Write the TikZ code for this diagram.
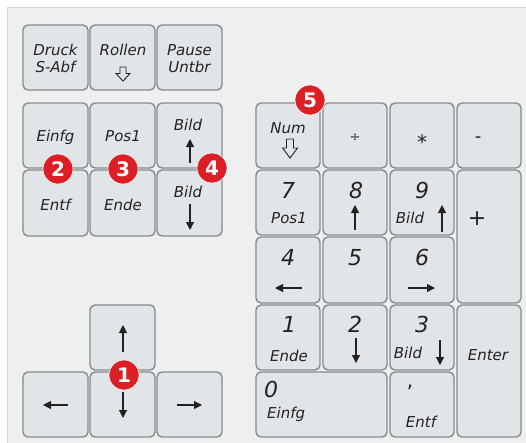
\documentclass[tikz,border=0pt]{standalone}
\usepackage{fontspec}
\setmainfont{DejaVu Sans}
\usetikzlibrary{arrows.meta}
\definecolor{panelfill}{HTML}{EEF0F0}
\definecolor{panelline}{HTML}{D6D8D8}
\definecolor{keyfill}{HTML}{E2E5E8}
\definecolor{keyline}{HTML}{878A8E}
\definecolor{txt}{HTML}{222222}
\definecolor{badgered}{HTML}{DC1E25}
\newcommand\kbkey[5]{\node[keybox, minimum width={#4-#2}, minimum height={#5-#3}] (#1) at ({(#2+#4)/2},{(#3+#5)/2}) {};}
\newcommand\kbhollow[6]{\draw[hollowarrow] (#1-#4,#2) -- (#1+#4,#2) -- (#1+#4,#3) -- (#1+#5,#3) -- (#1,#6) -- (#1-#5,#3) -- (#1-#4,#3) -- cycle;}
\tikzset{
  keybox/.style={draw=keyline, fill=keyfill, line width=1.4pt, rounded corners=5pt, inner sep=0pt, outer sep=0pt},
  keytxt/.style={font=\fontsize{15}{17}\selectfont\itshape, text=txt, inner sep=0pt, anchor=base},
  numtxt/.style={font=\fontsize{22}{24}\selectfont\itshape, text=txt, inner sep=0pt, anchor=base},
  keyarrow/.style={draw=txt, line width=1.1pt, -{Triangle[length=8pt,width=8pt]}},
  hollowarrow/.style={draw=txt, line width=0.9pt, fill=keyfill, line join=miter},
  badge/.style={circle, fill=badgered, draw=white, line width=0.6pt, minimum size=30pt, inner sep=0pt, text=white, font=\fontsize{20}{20}\selectfont\bfseries}
}
\begin{document}
\begin{tikzpicture}[x=1pt,y=-1pt]
\useasboundingbox (0,0) rectangle (526,442);
\fill[white] (0,0) rectangle (526,442);
\fill[panelfill] (7,7) rectangle (530,446);
\draw[panelline, line width=1pt] (7,446) -- (7,7) -- (530,7);
% top block
\kbkey{druck}{23}{25}{88}{90}
\kbkey{rollen}{90}{25}{155}{90}
\kbkey{pause}{157}{25}{222}{90}
\kbkey{einfg}{23}{103}{88}{168}
\kbkey{pos}{90}{103}{155}{168}
\kbkey{bildup}{157}{103}{222}{168}
\kbkey{entf}{23}{170}{88}{236}
\kbkey{ende}{90}{170}{155}{236}
\kbkey{bilddn}{157}{170}{222}{236}
% arrow keys
\kbkey{up}{90}{305}{155}{370}
\kbkey{left}{23}{372}{88}{437}
\kbkey{down}{90}{372}{155}{437}
\kbkey{right}{157}{372}{222}{437}
% numpad
\kbkey{num}{256}{103}{320}{168}
\kbkey{div}{323}{103}{387}{168}
\kbkey{mul}{390}{103}{454}{168}
\kbkey{minus}{457}{103}{521}{168}
\kbkey{n7}{256}{170}{320}{235}
\kbkey{n8}{323}{170}{387}{235}
\kbkey{n9}{390}{170}{454}{235}
\kbkey{plus}{457}{170}{521}{303}
\kbkey{n4}{256}{237}{320}{303}
\kbkey{n5}{323}{237}{387}{303}
\kbkey{n6}{390}{237}{454}{303}
\kbkey{n1}{256}{305}{320}{370}
\kbkey{n2}{323}{305}{387}{370}
\kbkey{n3}{390}{305}{454}{370}
\kbkey{enter}{457}{305}{521}{437}
\kbkey{n0}{256}{372}{387}{437}
\kbkey{comma}{390}{372}{454}{437}
% texts top block
\node[keytxt] (tdruck) at (55.5,55) {Druck};
\node[keytxt] (tsabf) at (55.5,72) {S-Abf};
\node[keytxt] (trollen) at (123,55) {Rollen};
\kbhollow{123}{67}{73.5}{3}{7}{81}
\node[keytxt] (tpause) at (189.5,55) {Pause};
\node[keytxt] (tuntbr) at (189.5,72) {Untbr};
\node[keytxt] (teinfg) at (55.5,141) {Einfg};
\node[keytxt] (tpos) at (123,141) {Pos1};
\node[keytxt] (tbildup) at (188,130) {Bild};
\coordinate (aup1) at (190,163); \coordinate (aup2) at (190,139);
\draw[keyarrow] (aup1) -- (aup2);
\node[keytxt] (tentf) at (55.5,210) {Entf};
\node[keytxt] (tende) at (123,210) {Ende};
\node[keytxt] (tbilddn) at (188,197) {Bild};
\coordinate (adn1) at (190,204); \coordinate (adn2) at (190,230);
\draw[keyarrow] (adn1) -- (adn2);
% arrow keys
\coordinate (u1) at (123,352); \coordinate (u2) at (123,325);
\draw[keyarrow] (u1) -- (u2);
\coordinate (d1) at (123,392); \coordinate (d2) at (123,418);
\draw[keyarrow] (d1) -- (d2);
\coordinate (l1) at (68,405); \coordinate (l2) at (43,405);
\draw[keyarrow] (l1) -- (l2);
\coordinate (r1) at (177,405); \coordinate (r2) at (202,405);
\draw[keyarrow] (r1) -- (r2);
% numpad texts
\node[keytxt] (tnum) at (288,133) {Num};
\kbhollow{290}{139}{148}{3.5}{7.5}{158}
\node[keytxt, font=\fontsize{13}{13}\selectfont] (tdiv) at (355,141) {÷};
\node[keytxt, font=\fontsize{20}{20}\selectfont] (tmul) at (422,149) {*};
\node[keytxt, font=\fontsize{18}{18}\selectfont] (tminus) at (478,142) {-};
\node[numtxt] (t7) at (288,198) {7};
\node[keytxt] (tpos7) at (289,223) {Pos1};
\node[numtxt] (t8) at (356,198) {8};
\coordinate (a8a) at (355,230); \coordinate (a8b) at (355,205);
\draw[keyarrow] (a8a) -- (a8b);
\node[numtxt] (t9) at (422,198) {9};
\node[keytxt] (tbild9) at (410,223) {Bild};
\coordinate (a9a) at (442,232); \coordinate (a9b) at (442,205);
\draw[keyarrow] (a9a) -- (a9b);
\node[numtxt, font=\fontsize{22}{22}\selectfont] (tplus) at (477,225) {+};
\node[numtxt] (t4) at (288,265) {4};
\coordinate (a4a) at (302,288); \coordinate (a4b) at (275,288);
\draw[keyarrow] (a4a) -- (a4b);
\node[numtxt] (t5) at (355,265) {5};
\node[numtxt] (t6) at (422,265) {6};
\coordinate (a6a) at (408,288); \coordinate (a6b) at (435,288);
\draw[keyarrow] (a6a) -- (a6b);
\node[numtxt] (t1) at (289,332) {1};
\node[keytxt] (tende1) at (289,361) {Ende};
\node[numtxt] (t2) at (355,332) {2};
\coordinate (a2a) at (356,338); \coordinate (a2b) at (356,363);
\draw[keyarrow] (a2a) -- (a2b);
\node[numtxt] (t3) at (422,332) {3};
\node[keytxt] (tbild3) at (408,358) {Bild};
\coordinate (a3a) at (440,340); \coordinate (a3b) at (440,365);
\draw[keyarrow] (a3a) -- (a3b);
\node[keytxt] (tenter) at (488,360) {Enter};
\node[numtxt, anchor=base west] (t0) at (264,397) {0};
\node[keytxt, anchor=base west] (teinfg0) at (267,418) {Einfg};
\node[numtxt, font=\fontsize{20}{20}\selectfont] (tcomma) at (410,387) {,};
\node[keytxt] (tentf0) at (421,427) {Entf};
% badges
\node[badge] (b1) at (124,375) {1};
\node[badge] (b2) at (58,169) {2};
\node[badge] (b3) at (123,169) {3};
\node[badge] (b4) at (212,168) {4};
\node[badge] (b5) at (310,100) {5};
\end{tikzpicture}
\end{document}
